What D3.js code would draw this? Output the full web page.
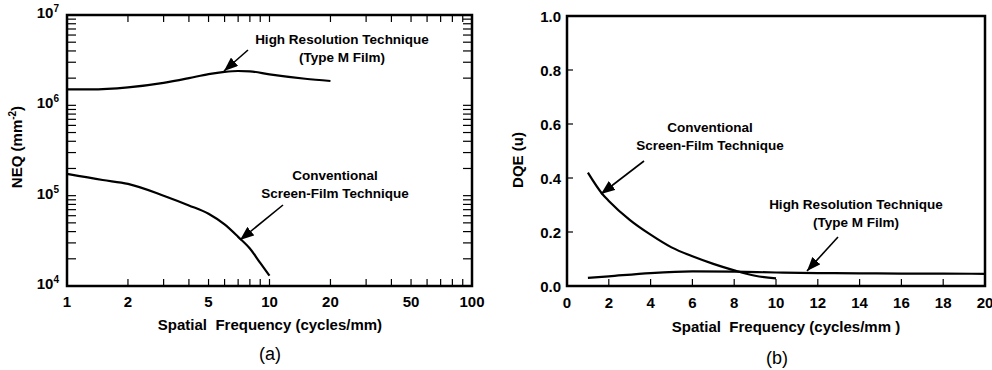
<!DOCTYPE html>
<html>
<head>
<meta charset="utf-8">
<script src="https://cdn.jsdelivr.net/npm/d3@7"></script>
<style>
  body { margin: 0; background: #fff; }
  text { font-family: "Liberation Sans", Arial, sans-serif; font-weight: bold; fill: #000; white-space: pre; }
  .frame { fill: none; stroke: #000; stroke-width: 2.5; }
  .tick-line { stroke: #000; stroke-width: 1.2; }
  .curve { fill: none; stroke: #000; stroke-width: 2.2; }
  .arrow { stroke: #000; stroke-width: 1.6; }
</style>
</head>
<body>
<div id="chart"></div>
<script>
// panel (a): NEQ vs spatial frequency (log-log)
const freqNeqHigh = [1, 1.3, 2, 3, 4, 5, 6, 7, 8, 10, 15, 20];
const neqHigh = [1.5e6, 1.5e6, 1.58e6, 1.77e6, 2.0e6, 2.22e6, 2.35e6, 2.4e6, 2.38e6, 2.2e6, 1.97e6, 1.86e6];
const freqNeqConv = [1, 1.5, 2, 3, 4, 5, 6, 7, 8, 9, 10];
const neqConv = [1.74e5, 1.49e5, 1.35e5, 1.0e5, 7.8e4, 6.3e4, 4.8e4, 3.5e4, 2.6e4, 1.8e4, 1.3e4];
const neqXTicks = [1, 2, 5, 10, 20, 50, 100];
const neqYTicks = [4, 5, 6, 7]; // exponents

// panel (b): DQE vs spatial frequency (linear)
const freqDqeConv = [1, 1.7, 2, 3, 4, 5, 6, 7, 8, 9, 10];
const dqeConv = [0.42, 0.34, 0.315, 0.245, 0.19, 0.143, 0.11, 0.082, 0.058, 0.038, 0.028];
const freqDqeHigh = [1, 2, 4, 6, 8, 10, 12, 14, 16, 18, 20];
const dqeHigh = [0.03, 0.036, 0.048, 0.054, 0.053, 0.05, 0.048, 0.047, 0.046, 0.046, 0.045];
const dqeXTicks = [0, 2, 4, 6, 8, 10, 12, 14, 16, 18, 20];
const dqeYTicks = [0.0, 0.2, 0.4, 0.6, 0.8, 1.0];

const W = 992, H = 370;
const svg = d3.select('#chart').append('svg')
  .attr('width', W).attr('height', H);

const defs = svg.append('defs');
defs.append('marker')
  .attr('id', 'head')
  .attr('viewBox', '0 0 14 11')
  .attr('refX', 14).attr('refY', 5.5)
  .attr('markerWidth', 14).attr('markerHeight', 11)
  .attr('markerUnits', 'userSpaceOnUse')
  .attr('orient', 'auto')
  .append('path')
  .attr('d', 'M0,0 L14,5.5 L0,11 Z')
  .attr('fill', '#000');

function arrow(g, x1, y1, x2, y2) {
  g.append('line')
    .attr('class', 'arrow')
    .attr('x1', x1).attr('y1', y1)
    .attr('x2', x2).attr('y2', y2)
    .attr('marker-end', 'url(#head)');
}

function label(g, x, y, lines, size) {
  lines.forEach(function(s, i) {
    g.append('text')
      .attr('x', x).attr('y', y + i * 18)
      .attr('text-anchor', 'middle')
      .attr('font-size', size || 13.5)
      .text(s);
  });
}

// ---------- panel (a) ----------
const a = { l: 67, r: 472, t: 15, b: 286 };
const xa = d3.scaleLog().domain([1, 100]).range([a.l, a.r]);
const ya = d3.scaleLog().domain([1e4, 1e7]).range([a.b, a.t]);
const ga = svg.append('g');

// minor + major ticks, inward on all four sides
let xaTicks = [];
[1, 10].forEach(function(d) {
  for (let k = 1; k < 10; k++) xaTicks.push(d * k);
});
xaTicks = xaTicks.filter(v => v > 1);
xaTicks.forEach(function(v) {
  ga.append('line').attr('class', 'tick-line')
    .attr('x1', xa(v)).attr('x2', xa(v))
    .attr('y1', a.b).attr('y2', a.b - 7);
  ga.append('line').attr('class', 'tick-line')
    .attr('x1', xa(v)).attr('x2', xa(v))
    .attr('y1', a.t).attr('y2', a.t + 7);
});
let yaTicks = [];
[1e4, 1e5, 1e6].forEach(function(d) {
  for (let k = 1; k < 10; k++) yaTicks.push(d * k);
});
yaTicks = yaTicks.filter(v => v > 1e4);
yaTicks.forEach(function(v) {
  ga.append('line').attr('class', 'tick-line')
    .attr('x1', a.l).attr('x2', a.l + 9)
    .attr('y1', ya(v)).attr('y2', ya(v));
  ga.append('line').attr('class', 'tick-line')
    .attr('x1', a.r).attr('x2', a.r - 9)
    .attr('y1', ya(v)).attr('y2', ya(v));
});

ga.append('rect').attr('class', 'frame')
  .attr('x', a.l).attr('y', a.t)
  .attr('width', a.r - a.l).attr('height', a.b - a.t);

neqXTicks.forEach(function(v) {
  ga.append('text')
    .attr('x', xa(v)).attr('y', a.b + 21)
    .attr('text-anchor', 'middle')
    .attr('font-size', 15)
    .text(v);
});
neqYTicks.forEach(function(e) {
  const t = ga.append('text')
    .attr('x', a.l - 8).attr('y', ya(Math.pow(10, e)) + 3)
    .attr('text-anchor', 'end')
    .attr('font-size', 15);
  t.append('tspan').text('10');
  t.append('tspan').attr('font-size', 10).attr('dy', -6).text(e);
});

const lineA = d3.line()
  .x(d => xa(d[0])).y(d => ya(d[1]))
  .curve(d3.curveMonotoneX);
ga.append('path').attr('class', 'curve')
  .attr('d', lineA(d3.zip(freqNeqHigh, neqHigh)));
ga.append('path').attr('class', 'curve')
  .attr('d', lineA(d3.zip(freqNeqConv, neqConv)));

label(ga, 342, 44, ['High Resolution Technique', '(Type M Film)']);
arrow(ga, 248, 50, 224, 71);
label(ga, 335, 180, ['Conventional', 'Screen-Film Technique']);
arrow(ga, 283, 205, 240, 240);

const yta = ga.append('text')
  .attr('transform', 'translate(22,' + 147 + ') rotate(-90)')
  .attr('text-anchor', 'middle')
  .attr('font-size', 15);
yta.append('tspan').text('NEQ (mm');
yta.append('tspan').attr('font-size', 10).attr('dy', -6).text('-2');
yta.append('tspan').attr('dy', 6).text(')');

ga.append('text')
  .attr('x', 270).attr('y', 330)
  .attr('text-anchor', 'middle')
  .attr('font-size', 15)
  .text('Spatial  Frequency (cycles/mm)');
ga.append('text')
  .attr('x', 270).attr('y', 360)
  .attr('text-anchor', 'middle')
  .attr('font-size', 18)
  .style('font-weight', 'normal')
  .text('(a)');

// ---------- panel (b) ----------
const b = { l: 567, r: 985, t: 16, b: 286 };
const xb = d3.scaleLinear().domain([0, 20]).range([b.l, b.r]);
const yb = d3.scaleLinear().domain([0, 1]).range([b.b, b.t]);
const gb = svg.append('g');

dqeXTicks.forEach(function(v) {
  gb.append('line').attr('class', 'tick-line')
    .attr('x1', xb(v)).attr('x2', xb(v))
    .attr('y1', b.b).attr('y2', b.b - 7);
  gb.append('text')
    .attr('x', xb(v)).attr('y', b.b + 22)
    .attr('text-anchor', 'middle')
    .attr('font-size', 15)
    .text(v);
});
dqeYTicks.forEach(function(v) {
  gb.append('line').attr('class', 'tick-line')
    .attr('x1', b.l).attr('x2', b.l + 6)
    .attr('y1', yb(v)).attr('y2', yb(v));
  gb.append('text')
    .attr('x', b.l - 6).attr('y', yb(v) + 6)
    .attr('text-anchor', 'end')
    .attr('font-size', 15)
    .text(v.toFixed(1));
});

gb.append('rect').attr('class', 'frame')
  .attr('x', b.l).attr('y', b.t)
  .attr('width', b.r - b.l).attr('height', b.b - b.t);

const lineB = d3.line()
  .x(d => xb(d[0])).y(d => yb(d[1]))
  .curve(d3.curveMonotoneX);
gb.append('path').attr('class', 'curve')
  .attr('d', lineB(d3.zip(freqDqeConv, dqeConv)));
gb.append('path').attr('class', 'curve')
  .attr('d', lineB(d3.zip(freqDqeHigh, dqeHigh)));

label(gb, 710, 132, ['Conventional', 'Screen-Film Technique']);
arrow(gb, 644, 161, 601, 194);
label(gb, 856, 209, ['High Resolution Technique', '(Type M Film)']);
arrow(gb, 838, 237, 807, 271);

gb.append('text')
  .attr('transform', 'translate(523,' + 160 + ') rotate(-90)')
  .attr('text-anchor', 'middle')
  .attr('font-size', 15)
  .text('DQE (u)');

gb.append('text')
  .attr('x', 786).attr('y', 332)
  .attr('text-anchor', 'middle')
  .attr('font-size', 15)
  .text('Spatial  Frequency (cycles/mm )');
gb.append('text')
  .attr('x', 777).attr('y', 364)
  .attr('text-anchor', 'middle')
  .attr('font-size', 18)
  .style('font-weight', 'normal')
  .text('(b)');
</script>
</body>
</html>
